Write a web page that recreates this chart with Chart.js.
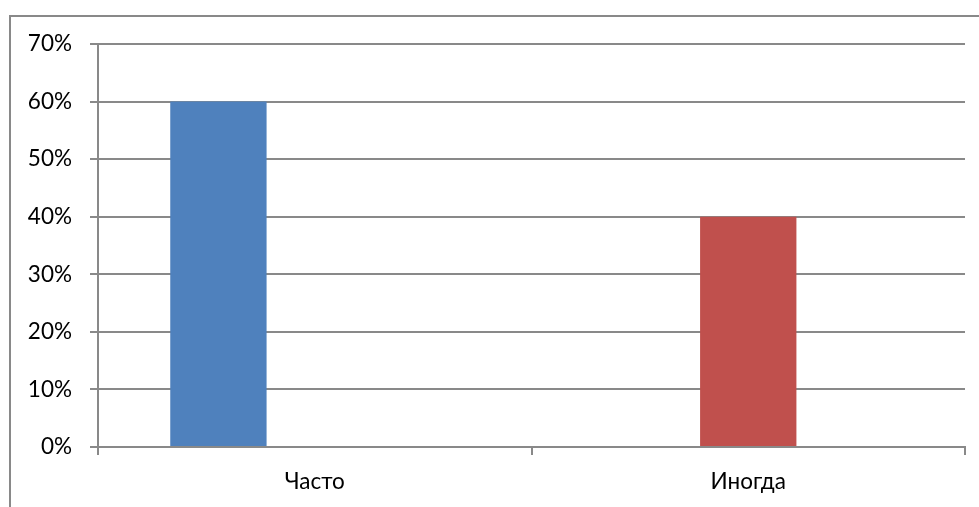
<!DOCTYPE html>
<html>
<head>
<meta charset="utf-8">
<script src="https://cdn.jsdelivr.net/npm/chart.js@4/dist/chart.umd.min.js"></script>
<style>
  html, body { margin: 0; padding: 0; background: #fff; overflow: hidden; }
  #wrap { position: relative; width: 979px; height: 507px; overflow: hidden; }
  #frame { position: absolute; left: 9px; top: 15px; width: 1000px; height: 600px; border: 2px solid #898989; box-sizing: border-box; }
  #c { position: absolute; left: 0; top: 0; }
</style>
</head>
<body>
<div id="wrap">
  <div id="frame"></div>
  <canvas id="c" width="979" height="507"></canvas>
</div>
<script>
const categories = ["Часто", "Иногда"];
const series1 = [0.60, null];
const series2 = [null, 0.40];
const series3 = [null, null];
const yTicks = [0, 0.1, 0.2, 0.3, 0.4, 0.5, 0.6, 0.7];

const axisColor = "#898989";
const fontSpec = { family: "Lato, 'Open Sans', sans-serif", size: 22.5 };

new Chart(document.getElementById("c"), {
  type: "bar",
  data: {
    labels: categories,
    datasets: [
      { label: "1", data: series1, backgroundColor: "#4F81BD" },
      { label: "2", data: series2, backgroundColor: "#C0504D" },
      { label: "3", data: series3, backgroundColor: "#9BBB59" }
    ]
  },
  options: {
    responsive: false,
    animation: false,
    devicePixelRatio: 1,
    layout: { padding: { left: 0, right: 14, top: 44, bottom: 0 } },
    datasets: { bar: { categoryPercentage: 3 / 4.5, barPercentage: 1 } },
    plugins: { legend: { display: false }, tooltip: { enabled: false } },
    scales: {
      x: {
        grid: { display: true, drawOnChartArea: false, drawTicks: true, tickLength: 8, color: axisColor, lineWidth: 2, offset: true },
        border: { display: true, color: axisColor, width: 2 },
        ticks: { color: "#000", font: fontSpec, padding: 13 },
        afterFit: (s) => { s.height = 60; }
      },
      y: {
        min: 0, max: 0.7,
        afterBuildTicks: (s) => { s.ticks = yTicks.map(v => ({ value: v })); },
        grid: { color: axisColor, lineWidth: 2, drawTicks: true, tickLength: 8 },
        border: { display: true, color: axisColor, width: 2 },
        ticks: { color: "#000", font: fontSpec, padding: 18, callback: (v) => Math.round(v * 100) + "%" },
        afterFit: (s) => { s.width = 98; }
      }
    }
  }
});
</script>
</body>
</html>
